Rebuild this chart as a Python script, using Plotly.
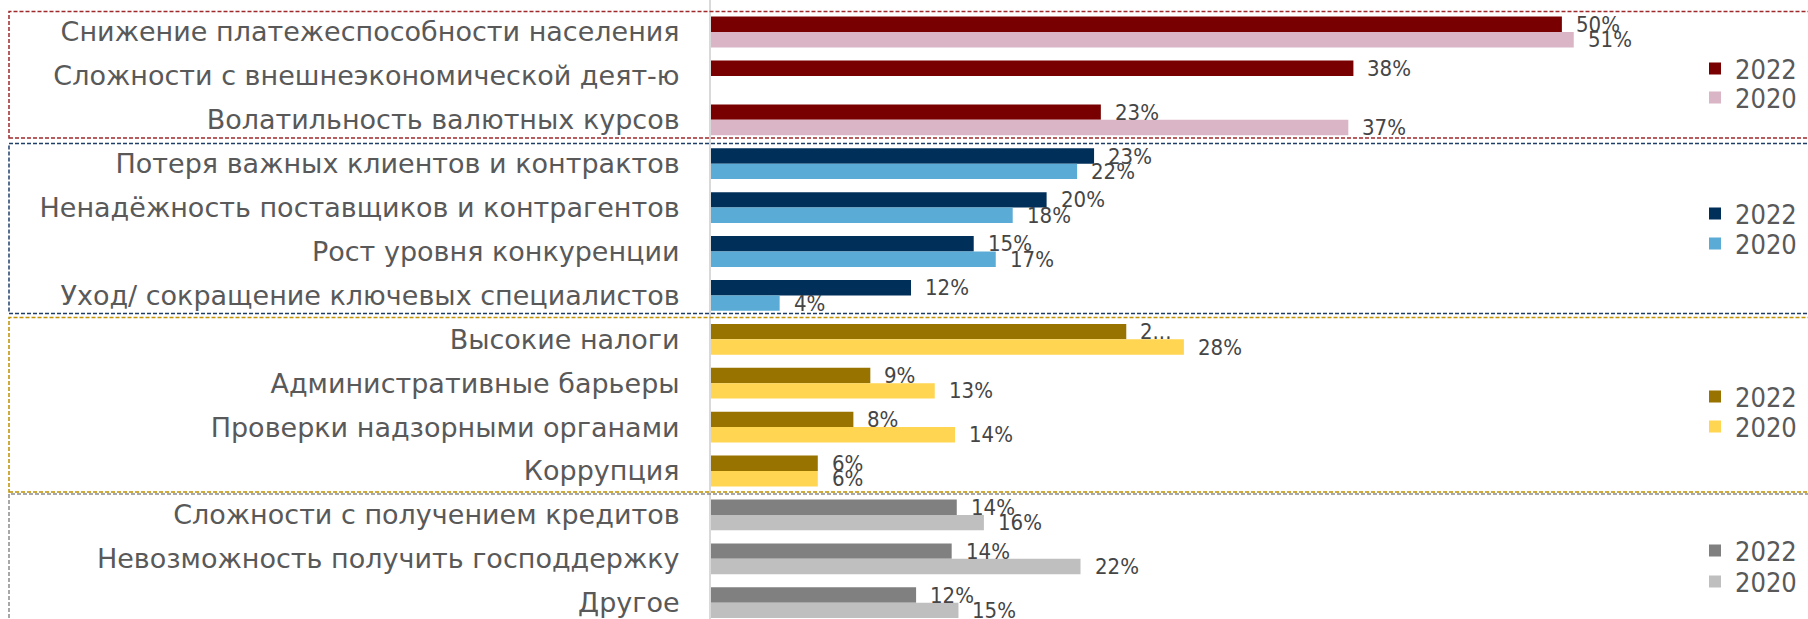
import plotly.graph_objects as go

# ---------------- data ----------------
g1_cats = ["Снижение платежеспособности населения",
           "Сложности с внешнеэкономической деят-ю",
           "Волатильность валютных курсов"]
g1_2022 = [50.2, 37.9, 23.0]
g1_2020 = [50.9, None, 37.6]
g1_lbl_2022 = ["50%", "38%", "23%"]
g1_lbl_2020 = ["51%", "", "37%"]

g2_cats = ["Потеря важных клиентов и контрактов",
           "Ненадёжность поставщиков и контрагентов",
           "Рост уровня конкуренции",
           "Уход/ сокращение ключевых специалистов"]
g2_2022 = [22.6, 19.8, 15.5, 11.8]
g2_2020 = [21.6, 17.8, 16.8, 4.05]
g2_lbl_2022 = ["23%", "20%", "15%", "12%"]
g2_lbl_2020 = ["22%", "18%", "17%", "4%"]

g3_cats = ["Высокие налоги",
           "Административные барьеры",
           "Проверки надзорными органами",
           "Коррупция"]
g3_2022 = [24.5, 9.4, 8.4, 6.3]
g3_2020 = [27.9, 13.2, 14.4, 6.3]
g3_lbl_2022 = ["2...", "9%", "8%", "6%"]
g3_lbl_2020 = ["28%", "13%", "14%", "6%"]

g4_cats = ["Сложности с получением кредитов",
           "Невозможность получить господдержку",
           "Другое"]
g4_2022 = [14.5, 14.2, 12.1]
g4_2020 = [16.1, 21.8, 14.6]
g4_lbl_2022 = ["14%", "14%", "12%"]
g4_lbl_2020 = ["16%", "22%", "15%"]

years = ["2022", "2020"]

# ---------------- styling ----------------
W, H = 1808, 619
ML = 711                     # plot-area left edge (axis line)
PX_PER_UNIT_X = 16.95        # pixels per percentage point
ROW = 43.9                   # pixels per category row
FIRST_ROW_PX = 32.0          # centre of first row from top
BAR_W = 0.351                # bar thickness in row units

colors = [
    ("#780000", "#D9B5C6"),
    ("#002F5A", "#5AACD6"),
    ("#997300", "#FFD551"),
    ("#808080", "#BFBFBF"),
]
border_colors = ["#9E2A2B", "#1F3F6B", "#BF9000", "#8C8C8C"]
# box extents in pixels (top, bottom)
boxes_px = [(11.5, 138.0), (143.5, 313.5), (317.5, 492.0), (494.0, 660.0)]
# legend item centres (2022, 2020) in pixels from top
legend_px = [(69, 98), (214, 244), (397, 427), (551, 582)]

groups = [
    (g1_cats, g1_2022, g1_2020, g1_lbl_2022, g1_lbl_2020),
    (g2_cats, g2_2022, g2_2020, g2_lbl_2022, g2_lbl_2020),
    (g3_cats, g3_2022, g3_2020, g3_lbl_2022, g3_lbl_2020),
    (g4_cats, g4_2022, g4_2020, g4_lbl_2022, g4_lbl_2020),
]

label_font = dict(family="DejaVu Sans Condensed, DejaVu Sans, sans-serif", size=22, color="#454545")
legend_font = dict(family="DejaVu Sans Condensed, DejaVu Sans, sans-serif", size=27, color="#595959")

fig = go.Figure()
all_cats = []
annotations = []
legend_layouts = {}
legend_idx = 0
start = 0
for gi, (cats, v22, v20, l22, l20) in enumerate(groups):
    pos = [start + k for k in range(len(cats))]
    all_cats.extend(cats)
    for yi, (vals, lbls, yr) in enumerate(((v22, l22, years[0]), (v20, l20, years[1]))):
        legend_idx += 1
        lname = "legend" if legend_idx == 1 else f"legend{legend_idx}"
        ys = [p for p, v in zip(pos, vals) if v is not None]
        xs = [v for v in vals if v is not None]
        fig.add_trace(go.Bar(
            x=xs, y=ys, orientation="h", name=yr,
            marker=dict(color=colors[gi][yi], line=dict(width=0)),
            width=BAR_W, offset=-BAR_W if yi == 0 else 0,
            legend=lname, showlegend=True, hoverinfo="x+y",
        ))
        for p, v, t in zip(pos, vals, lbls):
            if v is None or not t:
                continue
            annotations.append(dict(
                x=v, y=p - BAR_W / 2 if yi == 0 else p + BAR_W / 2,
                xref="x", yref="y", text=t, showarrow=False,
                xanchor="left", yanchor="middle", xshift=12,
                font=label_font,
            ))
        cy = legend_px[gi][yi]
        legend_layouts[lname] = dict(
            x=1695 / W, y=1 - cy / H, xref="container", yref="container",
            xanchor="left", yanchor="middle", font=legend_font,
            bgcolor="rgba(0,0,0,0)", borderwidth=0,
        )
    start += len(cats)

n = len(all_cats)
y_top = -FIRST_ROW_PX / ROW
y_bottom = y_top + H / ROW
plot_w = W - ML

shapes = []
for gi, (t, b) in enumerate(boxes_px):
    shapes.append(dict(
        type="rect", xref="paper", yref="paper",
        x0=(9 - ML) / plot_w, x1=(W + 20 - ML) / plot_w,
        y0=1 - b / H, y1=1 - t / H,
        line=dict(color=border_colors[gi], width=1.5, dash="4px,2px"),
        fillcolor="rgba(0,0,0,0)", layer="above",
    ))

fig.update_layout(
    width=W, height=H,
    margin=dict(l=ML, r=0, t=0, b=0, pad=0, autoexpand=False),
    paper_bgcolor="white", plot_bgcolor="white",
    barmode="overlay",
    xaxis=dict(range=[0, plot_w / PX_PER_UNIT_X], visible=False, fixedrange=True,
               automargin=False),
    yaxis=dict(
        range=[y_bottom, y_top], tickmode="array",
        tickvals=list(range(n)), ticktext=all_cats,
        showline=True, linecolor="#D9D9D9", linewidth=2,
        showgrid=False, zeroline=False, ticks="",
        ticklabelstandoff=24, automargin=False,
        tickfont=dict(family="DejaVu Sans, sans-serif", size=27, color="#595959"),
        fixedrange=True,
    ),
    annotations=annotations,
    shapes=shapes,
    **legend_layouts,
)

fig.write_html("out.html", config={"displayModeBar": False},
               post_script="document.body.style.margin='0';")
